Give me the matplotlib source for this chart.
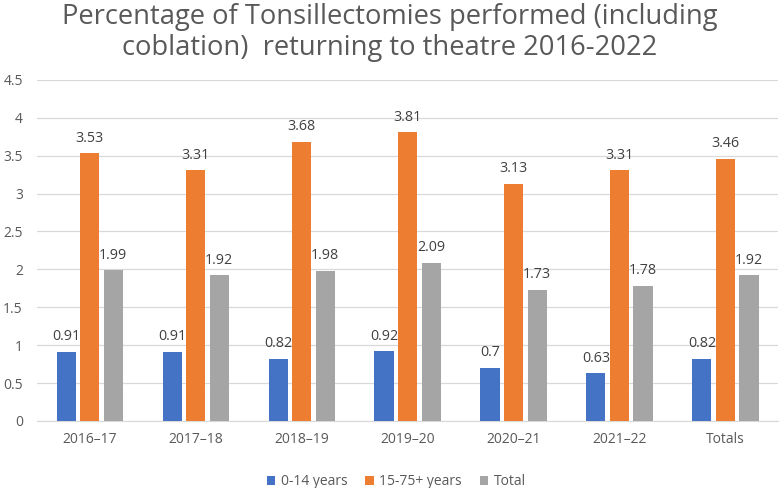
import matplotlib
matplotlib.use("Agg")
import matplotlib.pyplot as plt
import numpy as np

categories = ["2016–17", "2017–18", "2018–19", "2019–20", "2020–21", "2021–22", "Totals"]
series_names = ["0-14 years", "15-75+ years", "Total"]
young = [0.91, 0.91, 0.82, 0.92, 0.7, 0.63, 0.82]
adult = [3.53, 3.31, 3.68, 3.81, 3.13, 3.31, 3.46]
total = [1.99, 1.92, 1.98, 2.09, 1.73, 1.78, 1.92]
yticks = [0, 0.5, 1, 1.5, 2, 2.5, 3, 3.5, 4, 4.5]
ytick_labels = ["0", "0.5", "1", "1.5", "2", "2.5", "3", "3.5", "4", "4.5"]

colors = ["#4472C4", "#ED7D31", "#A5A5A5"]
txt = "#595959"
plt.rcParams['font.family'] = ['Open Sans', 'DejaVu Sans']

fig = plt.figure(figsize=(7.8, 4.88), dpi=100)
ax = fig.add_axes([0.047, 0.1373, 0.951, 0.699])

x = np.arange(len(categories))
w = 0.18
offs = [-0.222, 0, 0.222]
for data, off, c, name in zip([young, adult, total], offs, colors, series_names):
    bars = ax.bar(x + off, data, width=w, color=c, label=name, zorder=3)
    for b, v in zip(bars, data):
        ax.text(b.get_x() + b.get_width() / 2, v + 0.1, f"{v:g}", ha="center", va="bottom",
                fontsize=10.3, color="#404040")

ax.set_xlim(-0.5, len(categories) - 0.5)
ax.set_ylim(0, 4.5)
ax.set_yticks(yticks)
ax.set_yticklabels(ytick_labels)
ax.set_xticks(x)
ax.set_xticklabels(categories)
ax.grid(axis="y", color="#D9D9D9", linewidth=0.9, zorder=0)
for s in ["top", "right", "left"]:
    ax.spines[s].set_visible(False)
ax.spines["bottom"].set_color("#D9D9D9")
ax.tick_params(axis="both", length=0, colors=txt, labelsize=10)
ax.tick_params(axis="y", pad=10)
ax.tick_params(axis="x", pad=8)

fig.text(0.5, 0.993, "Percentage of Tonsillectomies performed (including\ncoblation)  returning to theatre 2016-2022",
         ha="center", va="top", fontsize=19.7, color=txt, linespacing=1.1)

ax.legend(loc="upper center", bbox_to_anchor=(0.485, -0.12), ncol=3, frameon=False,
          fontsize=10, labelcolor=txt, handlelength=0.6, handleheight=0.6,
          columnspacing=1.3, handletextpad=0.4)

fig.savefig("out.png", dpi=100)
